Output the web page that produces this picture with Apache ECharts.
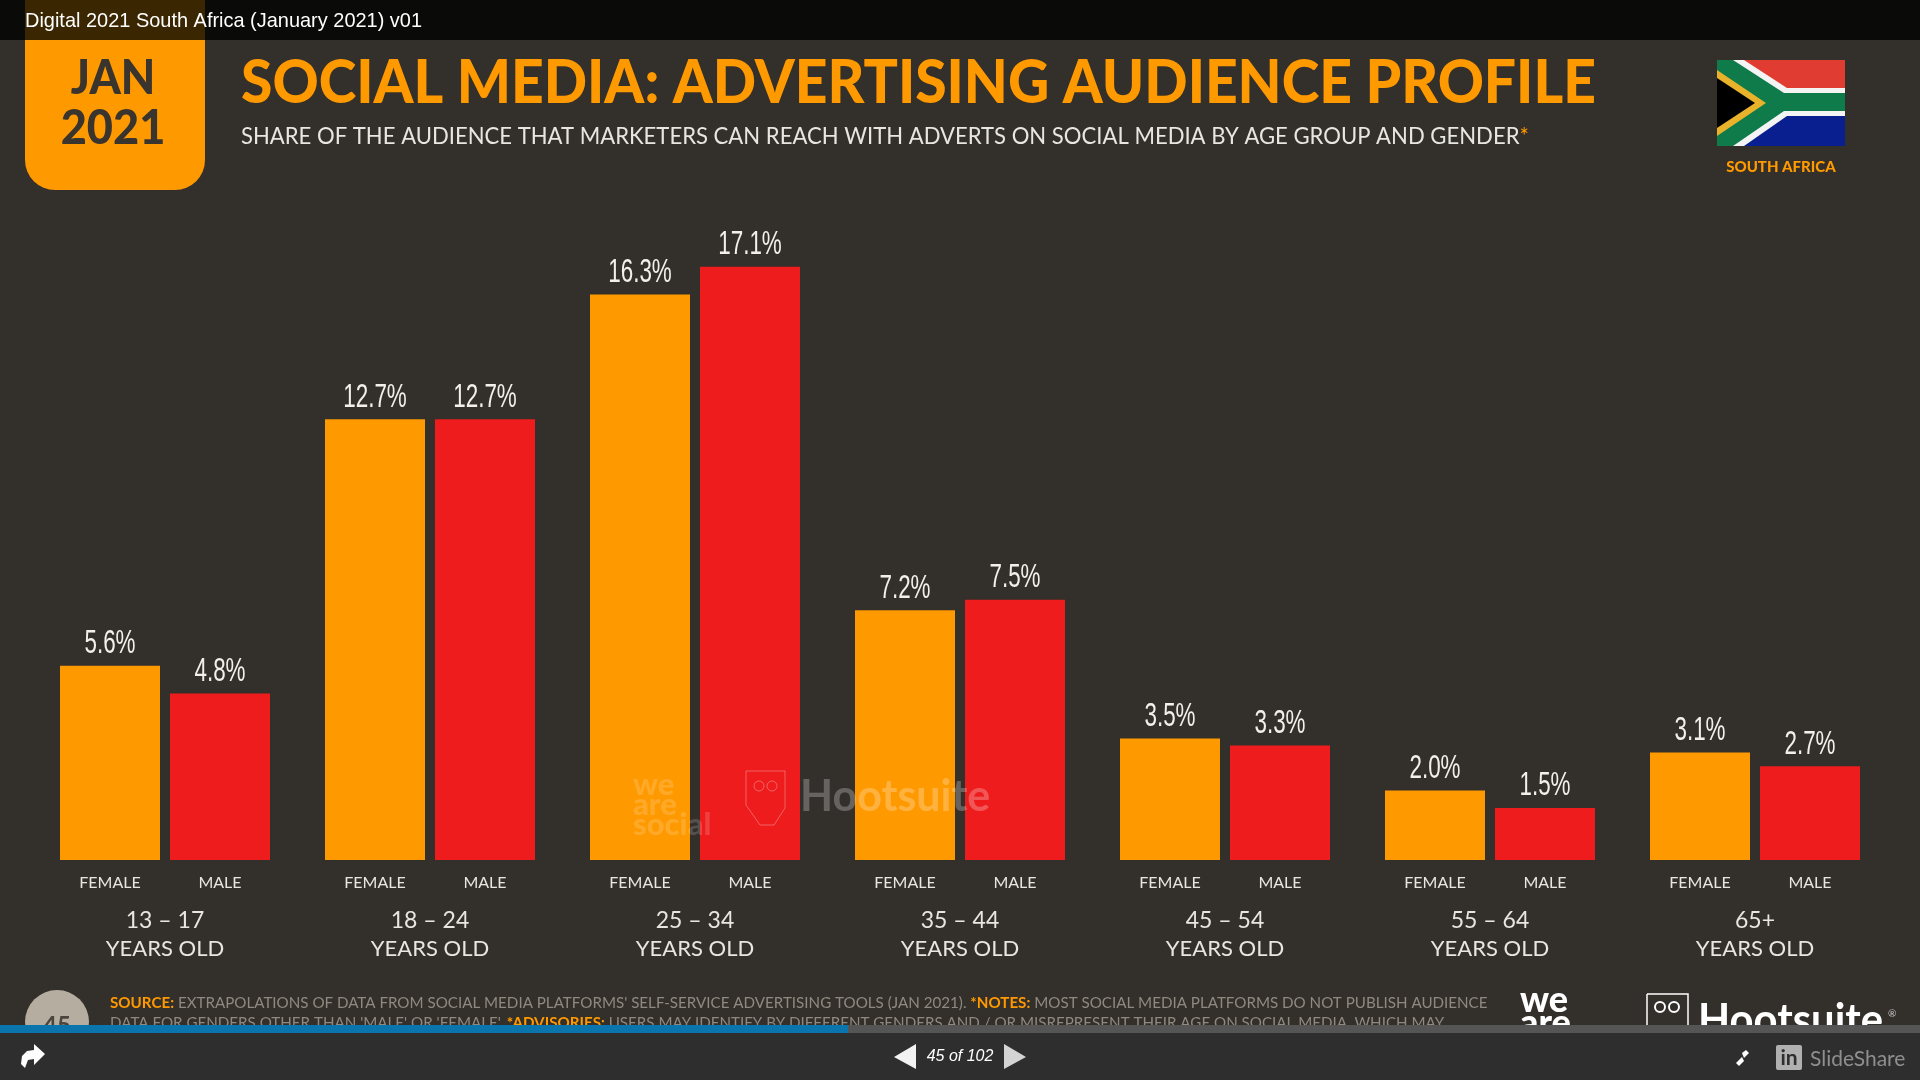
<!DOCTYPE html>
<html>
<head>
<meta charset="utf-8">
<title>Social Media: Advertising Audience Profile</title>
<script src="https://cdn.jsdelivr.net/npm/echarts@6/dist/echarts.min.js"></script>
<style>
    html, body { margin: 0; padding: 0; background: #332f2b; }
    #main { width: 1920px; height: 1080px; }
</style>
</head>
<body>
<div id="main"></div>
<script>
var ageGroups = ['13 – 17', '18 – 24', '25 – 34', '35 – 44', '45 – 54', '55 – 64', '65+'];
var femaleValues = [5.6, 12.7, 16.3, 7.2, 3.5, 2.0, 3.1];
var maleValues = [4.8, 12.7, 17.1, 7.5, 3.3, 1.5, 2.7];

var ORANGE = '#ff9900';
var RED = '#ee1c1c';
var GEO = 'Lato, "Noto Sans", sans-serif';
var ARIAL = '"Liberation Sans", Arial, sans-serif';

// small helpers for the slide furniture around the chart
function text(x, y, str, size, color, opts) {
    opts = opts || {};
    return {
        type: 'text', x: x, y: y, z: opts.z || 10, scaleX: opts.scaleX || 1,
        style: {
            text: str, fill: color, opacity: opts.opacity === undefined ? 1 : opts.opacity,
            fontFamily: opts.family || GEO, fontSize: size, fontWeight: opts.weight || 400,
            fontStyle: opts.italic ? 'italic' : 'normal',
            align: opts.align || 'left', verticalAlign: 'middle', rich: opts.rich
        }
    };
}
function rect(x, y, w, h, color, z, r, opacity) {
    return {
        type: 'rect', z: z, shape: { x: x, y: y, width: w, height: h, r: r || 0 },
        style: { fill: color, opacity: opacity === undefined ? 1 : opacity }
    };
}
function poly(points, color, z) {
    return { type: 'polygon', z: z, shape: { points: points }, style: { fill: color } };
}

// value labels sit above the bars and need a narrow face, so they are a custom series
function valueLabels(name, values, offset) {
    return {
        name: name, type: 'custom', z: 5, silent: true,
        data: values.map(function (v, i) { return [i, v]; }),
        encode: { x: 0, y: 1 },
        renderItem: function (params, api) {
            var pos = api.coord([api.value(0), api.value(1)]);
            return {
                type: 'text', x: pos[0] + offset, y: pos[1] - 5, scaleX: 0.66,
                style: {
                    text: api.value(1).toFixed(1) + '%', fill: '#f2f0ea',
                    fontFamily: ARIAL, fontSize: 34, align: 'center', verticalAlign: 'bottom'
                }
            };
        }
    };
}

var flag = [
    rect(1717, 60, 128, 86, '#0f7a4a', 5),
    poly([[1733, 60], [1845, 60], [1845, 93], [1784, 93]], '#f4f4f4', 6),
    poly([[1744, 60], [1845, 60], [1845, 88], [1787, 88]], '#e03c31', 7),
    poly([[1733, 146], [1845, 146], [1845, 111], [1784, 111]], '#f4f4f4', 6),
    poly([[1744, 146], [1845, 146], [1845, 116], [1787, 116]], '#0a1f8f', 7),
    poly([[1717, 70], [1766, 103], [1717, 136]], '#e8b22a', 6),
    poly([[1717, 78], [1755, 103], [1717, 128]], '#000000', 7)
];

var watermark = [
    text(633, 785, 'we', 31, '#ffffff', { weight: 900, opacity: 0.16, z: 8 }),
    text(633, 805, 'are', 31, '#ffffff', { weight: 900, opacity: 0.16, z: 8 }),
    text(633, 825, 'social', 31, '#ffffff', { weight: 900, opacity: 0.16, z: 8 }),
    {
        type: 'polyline', z: 8,
        shape: { points: [[746, 771], [785, 771], [785, 808], [774, 825], [760, 825], [746, 805], [746, 771]] },
        style: { stroke: '#ffffff', fill: null, lineWidth: 1, opacity: 0.3 }
    },
    { type: 'circle', z: 8, shape: { cx: 759, cy: 786, r: 5 }, style: { stroke: '#ffffff', fill: null, lineWidth: 1, opacity: 0.3 } },
    { type: 'circle', z: 8, shape: { cx: 772, cy: 786, r: 5 }, style: { stroke: '#ffffff', fill: null, lineWidth: 1, opacity: 0.3 } },
    text(800, 797, 'Hootsuite', 43, '#ffffff', { weight: 700, opacity: 0.25, z: 8 })
];

var footnoteRich = {
    o: { fill: ORANGE, fontFamily: GEO, fontSize: 16, fontWeight: 700 }
};

var furniture = [
    // tab with the date, sits under the translucent top bar
    rect(25, -30, 180, 220, ORANGE, 1, 30),
    rect(0, 0, 1920, 40, '#0a0a08', 20),
    rect(25, 0, 180, 40, '#3a2600', 21),
    text(25, 21, 'Digital 2021 South Africa (January 2021) v01', 21, '#ffffff', { family: ARIAL, z: 22, scaleX: 0.95 }),
    text(113, 79, 'JAN', 47, '#3a342e', { weight: 900, align: 'center', scaleX: 0.95 }),
    text(113, 129, '2021', 47, '#3a342e', { weight: 900, align: 'center', scaleX: 0.96 }),
    text(241, 84, 'SOCIAL MEDIA: ADVERTISING AUDIENCE PROFILE', 60, ORANGE, { weight: 900, scaleX: 0.95 }),
    text(241, 136, 'SHARE OF THE AUDIENCE THAT MARKETERS CAN REACH WITH ADVERTS ON SOCIAL MEDIA BY AGE GROUP AND GENDER{o|*}', 24, '#e8e6e0',
        { scaleX: 0.92, rich: { o: { fill: ORANGE, fontFamily: GEO, fontSize: 24 } } }),
    text(1781, 167, 'SOUTH AFRICA', 15, ORANGE, { weight: 900, align: 'center' }),

    // footer of the slide, cut off by the player controls
    { type: 'circle', z: 3, shape: { cx: 57, cy: 1022, r: 32 }, style: { fill: '#b5ada0' } },
    text(57, 1026, '45', 24, '#4a453e', { weight: 700, align: 'center', z: 4 }),
    text(110, 1003, '{o|SOURCE:} EXTRAPOLATIONS OF DATA FROM SOCIAL MEDIA PLATFORMS\' SELF-SERVICE ADVERTISING TOOLS (JAN 2021). {o|*NOTES:} MOST SOCIAL MEDIA PLATFORMS DO NOT PUBLISH AUDIENCE', 16, '#8f8a80',
        { scaleX: 0.947, rich: footnoteRich }),
    text(110, 1023, 'DATA FOR GENDERS OTHER THAN \'MALE\' OR \'FEMALE\'. {o|*ADVISORIES:} USERS MAY IDENTIFY BY DIFFERENT GENDERS AND / OR MISREPRESENT THEIR AGE ON SOCIAL MEDIA, WHICH MAY', 16, '#8f8a80',
        { scaleX: 0.947, rich: footnoteRich }),
    text(1520, 1000, 'we', 36, '#ffffff', { weight: 900 }),
    text(1520, 1023, 'are', 36, '#ffffff', { weight: 900 }),
    { type: 'polyline', z: 4, shape: { points: [[1647, 994], [1688, 994], [1688, 1030], [1647, 1030], [1647, 994]] }, style: { stroke: '#ffffff', fill: null, lineWidth: 1.5 } },
    { type: 'circle', z: 4, shape: { cx: 1660, cy: 1007, r: 5 }, style: { stroke: '#ffffff', fill: null, lineWidth: 2 } },
    { type: 'circle', z: 4, shape: { cx: 1674, cy: 1007, r: 5 }, style: { stroke: '#ffffff', fill: null, lineWidth: 2 } },
    text(1698, 1021, 'Hootsuite', 44, '#ffffff', { weight: 700, scaleX: 0.95 }),
    text(1888, 1014, '®', 10, '#cccccc'),

    // player controls
    rect(0, 1025, 1920, 8, '#555555', 30),
    rect(0, 1025, 848, 8, '#0a75ad', 31),
    rect(0, 1033, 1920, 47, '#2e2e2e', 30),
    poly([[916, 1044], [916, 1069], [894, 1057]], '#f2f2f2', 32),
    poly([[1004, 1044], [1004, 1069], [1026, 1057]], '#d4d4d4', 32),
    text(960, 1057, '45 of 102', 16, '#ffffff', { family: ARIAL, italic: true, align: 'center', z: 32 }),
    poly([[34, 1044], [45, 1054], [34, 1065], [34, 1059], [28, 1060], [25, 1068], [21, 1064], [22, 1056], [27, 1051], [34, 1050]], '#ffffff', 32),
    poly([[1746, 1050], [1749, 1053], [1744, 1058], [1742, 1053]], '#ffffff', 32),
    poly([[1736, 1063], [1742, 1057], [1744, 1061], [1739, 1066]], '#ffffff', 32),
    rect(1776, 1045, 26, 25, '#b0b0b0', 32, 2),
    text(1789, 1058, 'in', 21, '#2e2e2e', { weight: 700, align: 'center', z: 33 }),
    text(1810, 1059, 'SlideShare', 21, '#8f8f8f', { z: 32 })
].concat(flag, watermark);

var myChart = echarts.init(document.getElementById('main'), null, { renderer: 'canvas' });
myChart.setOption({
    backgroundColor: '#332f2b',
    animation: false,
    grid: { left: 32.5, right: 32.5, top: 166, bottom: 220 },
    xAxis: {
        type: 'category',
        data: ageGroups,
        axisLine: { show: false },
        axisTick: { show: false },
        axisLabel: {
            interval: 0,
            margin: 9,
            formatter: function (value) {
                return '{g|FEMALE}{g|MALE}\n{a|' + value + '}\n{y|YEARS OLD}';
            },
            rich: {
                g: { width: 110, align: 'center', lineHeight: 28, fontFamily: GEO, fontSize: 16, color: '#e8e6e0' },
                a: { padding: [20, 0, 0, 0], lineHeight: 28, fontFamily: GEO, fontSize: 23, color: '#e8e6e0' },
                y: { padding: [19, 0, 0, 0], lineHeight: 28, fontFamily: GEO, fontSize: 22, color: '#e8e6e0' }
            }
        }
    },
    yAxis: { type: 'value', min: 0, max: 20, show: false },
    series: [
        { name: 'Female', type: 'bar', data: femaleValues, barWidth: 100, barGap: '10%', itemStyle: { color: ORANGE } },
        { name: 'Male', type: 'bar', data: maleValues, barWidth: 100, barGap: '10%', itemStyle: { color: RED } },
        valueLabels('Female labels', femaleValues, -55),
        valueLabels('Male labels', maleValues, 55)
    ],
    graphic: furniture
});
</script>
</body>
</html>
